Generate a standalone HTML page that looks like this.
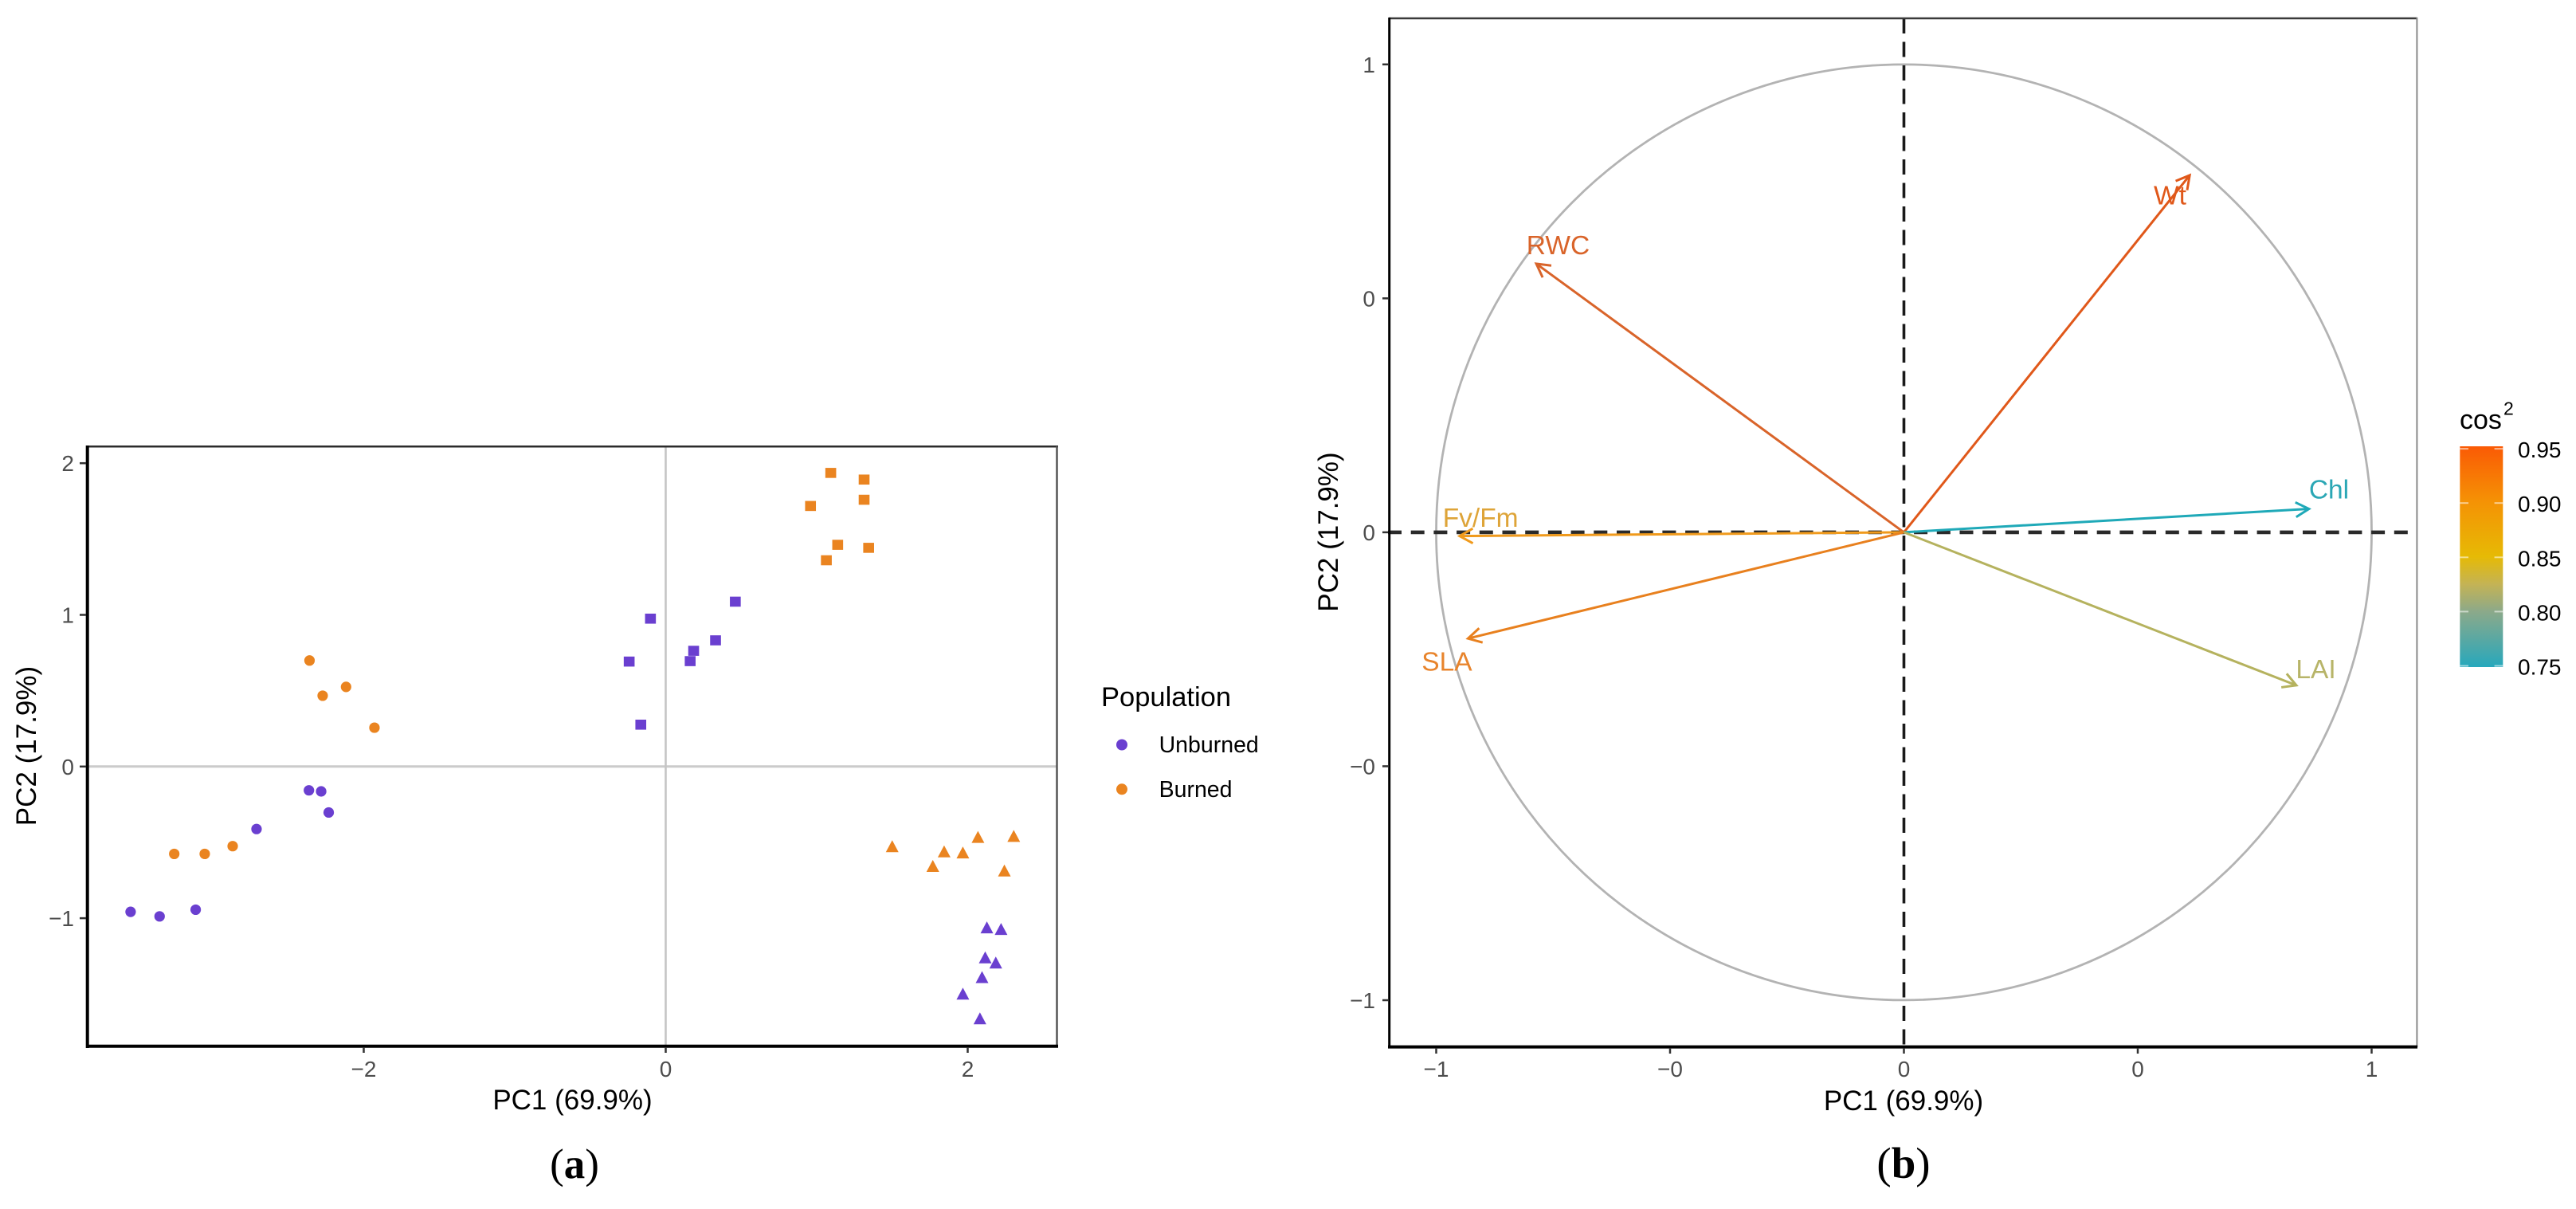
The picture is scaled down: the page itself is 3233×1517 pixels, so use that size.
<!DOCTYPE html>
<html lang="en">
<head>
<meta charset="utf-8">
<title>PCA individuals and variables plots</title>
<style>
html,body{margin:0;padding:0;background:#fff;width:3233px;height:1517px;overflow:hidden}
svg{display:block;font-family:"Liberation Sans",sans-serif}
</style>
</head>
<body>
<svg id="fig" xmlns="http://www.w3.org/2000/svg" width="3233" height="1517" viewBox="0 0 3233 1517">
  <rect width="3233" height="1517" fill="#ffffff"/>
  <defs>
    <linearGradient id="cosGrad" x1="0" y1="1" x2="0" y2="0">
      <stop offset="0" stop-color="#27a8bc"/>
      <stop offset="0.25" stop-color="#8ba98a"/>
      <stop offset="0.375" stop-color="#c4b355"/>
      <stop offset="0.5" stop-color="#e6ba05"/>
      <stop offset="0.75" stop-color="#f59205"/>
      <stop offset="1" stop-color="#fa5a05"/>
    </linearGradient>
  </defs>
  <g id="panelA"></g>
  <g id="panelB"></g>
  <text x="721" y="1478" text-anchor="middle" font-family="'Liberation Serif',serif" font-size="53" fill="#000">(<tspan font-weight="bold">a</tspan>)</text>
  <text x="2389" y="1478" text-anchor="middle" font-family="'Liberation Serif',serif" font-size="55" fill="#000">(<tspan font-weight="bold">b</tspan>)</text>
  <g>
    <text x="1382" y="886" font-size="34.5" fill="#000">Population</text>
    <circle cx="1408" cy="934.5" r="7" fill="#6a3fd0"/>
    <text x="1454.6" y="944" font-size="28.5" fill="#000">Unburned</text>
    <circle cx="1408" cy="990.3" r="7" fill="#ea8420"/>
    <text x="1454.6" y="1000" font-size="28.5" fill="#000">Burned</text>
  </g>
  <g>
    <text x="3087" y="538" font-size="34" fill="#000">cos</text>
    <text x="3142" y="520.7" font-size="23" fill="#000">2</text>
    <rect x="3087.3" y="560" width="54" height="277" fill="url(#cosGrad)"/>
    <g id="cbTicks"></g>
  </g>
</svg>
<script>
// ---- Panel (a): scores per group ----
var unburnedCircleX = [-3.544,-3.352,-3.113,-2.710,-2.363,-2.282,-2.232];
var unburnedCircleY = [-0.958,-0.988,-0.944,-0.412,-0.157,-0.164,-0.303];
var burnedCircleX = [-3.255,-3.053,-2.868,-2.359,-2.272,-2.117,-1.929];
var burnedCircleY = [-0.576,-0.576,-0.525,0.699,0.467,0.525,0.256];
var unburnedSquareX = [-0.242,-0.101,-0.165,0.162,0.185,0.330,0.461];
var unburnedSquareY = [0.692,0.975,0.276,0.695,0.763,0.832,1.087];
var burnedSquareX = [1.093,1.314,1.314,0.959,1.139,1.344,1.064];
var burnedSquareY = [1.936,1.892,1.759,1.718,1.462,1.442,1.360];
var burnedTriangleX = [1.500,1.844,1.968,2.068,2.305,1.769,2.243];
var burnedTriangleY = [-0.528,-0.562,-0.569,-0.467,-0.460,-0.658,-0.688];
var unburnedTriangleX = [2.127,2.221,2.116,2.186,2.095,1.968,2.081];
var unburnedTriangleY = [-1.063,-1.074,-1.261,-1.295,-1.391,-1.500,-1.663];
var scoreXTicks = [-2,0,2];
var scoreXTickLabels = ["\u22122","0","2"];
var scoreYTicks = [-1,0,1,2];
var scoreYTickLabels = ["\u22121","0","1","2"];

// ---- Panel (b): loadings ----
var variableNames = ["Wt","RWC","Fv/Fm","SLA","Chl","LAI"];
var loadingX = [0.611,-0.786,-0.950,-0.932,0.866,0.839];
var loadingY = [0.763,0.574,-0.008,-0.227,0.050,-0.327];
var labelShiftX = [-0.077,-0.021,-0.036,-0.099,0,-0.001];
var labelShiftY = [-0.062,0.020,0.020,-0.069,0.022,0.015];
var loadingTicks = [-1,-0.5,0,0.5,1];
var loadingXTickLabels = ["\u22121","\u22120","0","0","1"];
var loadingYTickLabels = ["\u22121","\u22120","0","0","1"];

// ---- Colorbar ----
var cosTicks = [0.75,0.80,0.85,0.90,0.95];
var cosTickLabels = ["0.75","0.80","0.85","0.90","0.95"];

var NS = "http://www.w3.org/2000/svg";
function mk(parent, tag, attrs, text) {
  var el = document.createElementNS(NS, tag);
  for (var k in attrs) el.setAttribute(k, attrs[k]);
  if (text !== undefined) el.textContent = text;
  parent.appendChild(el);
  return el;
}

// axis functions
function ax(v) { return 835.5 + 189.5 * v; }
function ay(v) { return 961.8 - 190.3 * v; }
function bx(v) { return 2389.5 + 587 * v; }
function by(v) { return 667.9 - 587.1 * v; }
function cy(v) { return 835.5 - (v - 0.75) / 0.2 * 272.4; }

var PURPLE = "#6a3fd0", ORANGE = "#ea8420";
var A = document.getElementById("panelA");
var B = document.getElementById("panelB");

// ---------- Panel A ----------
var a0 = mk(A, "line", {x1:109.7,x2:1326.5,y1:ay(0),y2:ay(0),stroke:"#cbcbcb","stroke-width":3});


var a1 = mk(A, "line", {x1:ax(0),x2:ax(0),y1:560.3,y2:1312.7,stroke:"#c4c4c4","stroke-width":2.5});



function drawScores(xs, ys, shape, color, name) {
  for (var i = 0; i < xs.length; i++) {
    var px = ax(xs[i]), py = ay(ys[i]), el;
    if (shape === "circle") {
      el = mk(A, "circle", {cx:px, cy:py, r:6.6, fill:color});
    } else if (shape === "square") {
      el = mk(A, "rect", {x:px-6.8, y:py-6.3, width:13.6, height:12.6, fill:color});
    } else {
      el = mk(A, "polygon", {points:(px-8)+","+(py+7)+" "+px+","+(py-8)+" "+(px+8)+","+(py+7), fill:color});
    }
    
    
  }
}
drawScores(unburnedCircleX, unburnedCircleY, "circle", PURPLE, "point-unburned-circle");
drawScores(burnedCircleX, burnedCircleY, "circle", ORANGE, "point-burned-circle");
drawScores(unburnedSquareX, unburnedSquareY, "square", PURPLE, "point-unburned-square");
drawScores(burnedSquareX, burnedSquareY, "square", ORANGE, "point-burned-square");
drawScores(burnedTriangleX, burnedTriangleY, "triangle", ORANGE, "point-burned-triangle");
drawScores(unburnedTriangleX, unburnedTriangleY, "triangle", PURPLE, "point-unburned-triangle");

var aTop = mk(A, "line", {x1:108,x2:1328,y1:560.3,y2:560.3,stroke:"#2b2b2b","stroke-width":2.5});


var aRight = mk(A, "line", {x1:1326.5,x2:1326.5,y1:560,y2:1313,stroke:"#555555","stroke-width":2.5});


var aLeft = mk(A, "line", {x1:109.7,x2:109.7,y1:559,y2:1315,stroke:"#000000","stroke-width":4});


var aBottom = mk(A, "line", {x1:108,x2:1328,y1:1312.7,y2:1312.7,stroke:"#000000","stroke-width":4});



scoreXTicks.forEach(function (v, i) {
  var t = mk(A, "line", {x1:ax(v),x2:ax(v),y1:1314,y2:1321,stroke:"#333","stroke-width":2.5});
  
  
  var l = mk(A, "text", {x:ax(v),y:1351,"text-anchor":"middle","font-size":28,fill:"#4d4d4d"}, scoreXTickLabels[i]);
  
  
});
scoreYTicks.forEach(function (v, i) {
  var t = mk(A, "line", {x1:100,x2:108,y1:ay(v),y2:ay(v),stroke:"#333","stroke-width":2.5});
  
  
  var l = mk(A, "text", {x:93,y:ay(v)+10,"text-anchor":"end","font-size":28,fill:"#4d4d4d"}, scoreYTickLabels[i]);
  
  
});
var axT = mk(A, "text", {x:718.5,y:1392,"text-anchor":"middle","font-size":35,fill:"#000"}, "PC1 (69.9%)");


var ayT = mk(A, "text", {transform:"translate(45,936) rotate(-90)","text-anchor":"middle","font-size":35,fill:"#000"}, "PC2 (17.9%)");



// ---------- Panel B ----------
var circ = mk(B, "circle", {cx:bx(0),cy:by(0),r:587,fill:"none",stroke:"#b3b3b3","stroke-width":2.8});



function cosColor(i) { return ["#e0581a","#d9642a","#f09a1c","#e8801e","#1fa9b8","#b5b25e"][i]; }
function labelColor(i) { return ["#e0581a","#d9642a","#dea438","#e8842c","#2ba7b5","#b7b468"][i]; }

var dashH = mk(B, "line", {x1:1742,x2:3033,y1:by(0),y2:by(0),stroke:"#2a2a2a","stroke-width":4.6,"stroke-dasharray":"17 11.7"});


var dashV = mk(B, "line", {x1:bx(0),x2:bx(0),y1:23,y2:1313,stroke:"#1a1a1a","stroke-width":3.6,"stroke-dasharray":"19 10.5"});



loadingX.forEach(function (v, i) {
  var x0 = bx(0), y0 = by(0), x1 = bx(v), y1 = by(loadingY[i]);
  var ang = Math.atan2(y1 - y0, x1 - x0), h = 19, sp = Math.PI / 6.2;
  var c = cosColor(i);
  var shaft = mk(B, "line", {x1:x0,y1:y0,x2:x1,y2:y1,stroke:c,"stroke-width":3});
  
  
  var p = (x1 - h * Math.cos(ang - sp)) + "," + (y1 - h * Math.sin(ang - sp)) + " " + x1 + "," + y1 + " " +
          (x1 - h * Math.cos(ang + sp)) + "," + (y1 - h * Math.sin(ang + sp));
  var head = mk(B, "polyline", {points:p,fill:"none",stroke:c,"stroke-width":3});
  
  
});

variableNames.forEach(function (n, i) {
  var t = mk(B, "text", {x:bx(loadingX[i]+labelShiftX[i]),y:by(loadingY[i]+labelShiftY[i]),"font-size":33.5,fill:labelColor(i)}, n);
  
  
});

var bTop = mk(B, "line", {x1:1743,x2:3034,y1:23,y2:23,stroke:"#3a3a3a","stroke-width":2.5});


var bRight = mk(B, "line", {x1:3033.4,x2:3033.4,y1:22,y2:1314,stroke:"#8a8a8a","stroke-width":2});


var bLeft = mk(B, "line", {x1:1743.7,x2:1743.7,y1:22,y2:1315,stroke:"#000","stroke-width":3});


var bBottom = mk(B, "line", {x1:1742,x2:3034,y1:1313.6,y2:1313.6,stroke:"#000","stroke-width":4});



loadingTicks.forEach(function (v, i) {
  var t = mk(B, "line", {x1:bx(v),x2:bx(v),y1:1315,y2:1322,stroke:"#333","stroke-width":2.5});
  
  
  var l = mk(B, "text", {x:bx(v),y:1351,"text-anchor":"middle","font-size":28,fill:"#4d4d4d"}, loadingXTickLabels[i]);
  
  
  var t2 = mk(B, "line", {x1:1735,x2:1742,y1:by(v),y2:by(v),stroke:"#333","stroke-width":2.5});
  
  
  var l2 = mk(B, "text", {x:1726,y:by(v)+10,"text-anchor":"end","font-size":28,fill:"#4d4d4d"}, loadingYTickLabels[i]);
  
  
});
var bxT = mk(B, "text", {x:2389,y:1393,"text-anchor":"middle","font-size":35,fill:"#000"}, "PC1 (69.9%)");


var byT = mk(B, "text", {transform:"translate(1679,667.5) rotate(-90)","text-anchor":"middle","font-size":35,fill:"#000"}, "PC2 (17.9%)");



// ---------- Colorbar ticks ----------
var CB = document.getElementById("cbTicks");
cosTicks.forEach(function (v, i) {
  var t1 = mk(CB, "line", {x1:3087.3,x2:3098,y1:cy(v),y2:cy(v),stroke:"#ffffff","stroke-opacity":0.55,"stroke-width":2});
  
  
  var t2 = mk(CB, "line", {x1:3130.6,x2:3141.3,y1:cy(v),y2:cy(v),stroke:"#ffffff","stroke-opacity":0.55,"stroke-width":2});
  
  
  var l = mk(CB, "text", {x:3160,y:cy(v)+11,"font-size":28,fill:"#000"}, cosTickLabels[i]);
  
  
});
</script>
</body>
</html>
